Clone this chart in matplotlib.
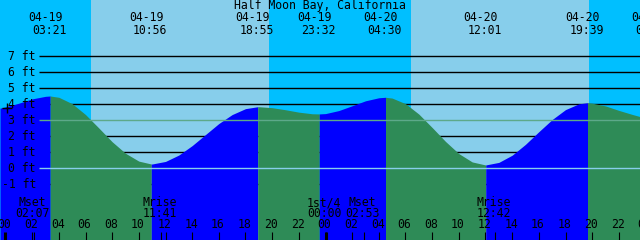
"""
Tide chart for Half Moon Bay, California (04-19 .. 04-20), xtide style.
"""

import matplotlib

matplotlib.use("Agg")
import matplotlib.pyplot as plt
import numpy as np


TITLE = "Half Moon Bay, California"

# tide extremes, alternating high / low
EXTREME_STAMPS = [
    "04-19 03:21", "04-19 10:56", "04-19 18:55", "04-19 23:32",
    "04-20 04:30", "04-20 12:01", "04-20 19:39", "04-21 00:34",
]
EXTREME_FT = [4.50, 0.25, 3.83, 3.38, 4.42, 0.19, 4.08, 3.00]

# water level on every hour, starting 04-18 23:00
HOURLY_START = -1
HOURLY_FT = [
    3.62, 3.82, 4.05, 4.32, 4.48, 4.42, 4.02, 3.34, 2.50, 1.64,
    0.92, 0.43, 0.25, 0.41, 0.81, 1.40, 2.09, 2.78, 3.34, 3.71,
    3.83, 3.77, 3.64, 3.49, 3.39, 3.40, 3.59, 3.89, 4.20, 4.39,
    4.37, 4.02, 3.37, 2.53, 1.66, 0.90, 0.38, 0.19, 0.35, 0.80,
    1.48, 2.27, 3.03, 3.65, 4.01, 4.05, 3.88, 3.60, 3.35, 3.12,
]

# sunrise, sunset, sunrise, sunset
SUN_STAMPS = ["04-19 06:25", "04-19 19:47", "04-20 06:24", "04-20 19:48"]

MOON_NAMES = ["Mset", "Mrise", "1st/4", "Mset", "Mrise"]
MOON_STAMPS = [
    "04-19 02:07", "04-19 11:41", "04-20 00:00", "04-20 02:53", "04-20 12:42",
]

FT_LEVELS = [-1, 0, 1, 2, 3, 4, 5, 6, 7]
MSL_FT = 3
DATUM_FT = 0

NIGHT = "#00BFFF"
DAY = "#87CEEB"
FLOOD = "#0000FF"
EBB = "#2E8B57"
MSL_COLOR = "#5DA98A"
DATUM_COLOR = "#87CEEB"

WIDTH, HEIGHT = 640, 240
PX_PER_HOUR = WIDTH / 48.0
X_OFFSET_PX = 5.5
T0 = -X_OFFSET_PX / PX_PER_HOUR
ZERO_PX, PX_PER_FT = 168.0, 16.0

FONT = dict(family="DejaVu Sans Mono", fontsize=8.3, color="black")


def hours(stamp):
    """'04-19 03:21' -> hours since 04-19 00:00."""
    day, clock = stamp.split()
    hh, mm = clock.split(":")
    return (int(day[3:]) - 19) * 24 + int(hh) + int(mm) / 60.0


def hx(px):
    return T0 + px / PX_PER_HOUR


def fy(py):
    return (ZERO_PX - py) / PX_PER_FT


ext_t = np.array([hours(s) for s in EXTREME_STAMPS])
ext_ft = np.array(EXTREME_FT)
hour_t = HOURLY_START + np.arange(len(HOURLY_FT))

curve_t = np.concatenate([hour_t, ext_t])
curve_ft = np.concatenate([HOURLY_FT, ext_ft])
order = np.argsort(curve_t)
curve_t, curve_ft = curve_t[order], curve_ft[order]

is_high = [
    ext_ft[i] > (ext_ft[i + 1] if i + 1 < len(ext_ft) else ext_ft[i - 1])
    for i in range(len(ext_ft))
]

fig = plt.figure(figsize=(WIDTH / 100, HEIGHT / 100), dpi=100)
ax = fig.add_axes([0, 0, 1, 1])
x0, x1 = T0, T0 + 48
ax.set_xlim(x0, x1)
ax.set_ylim(fy(HEIGHT), fy(0))
ax.axis("off")

# sky: night / day bands
sun_t = [hours(s) for s in SUN_STAMPS]
edges = [x0] + sun_t + [x1]
for i in range(len(edges) - 1):
    ax.axvspan(edges[i], edges[i + 1], color=NIGHT if i % 2 == 0 else DAY,
               lw=0, zorder=0)

# black depth lines, hidden by the water
for level in FT_LEVELS:
    if level in (MSL_FT, DATUM_FT):
        continue
    ax.hlines(level, hx(39), x1, color="black", lw=1.0, zorder=1)

# water, blue while rising, green while falling
seg_edges = [x0] + [t for t in ext_t if x0 < t < x1] + [x1]
for a, b in zip(seg_edges[:-1], seg_edges[1:]):
    idx = np.searchsorted(ext_t, 0.5 * (a + b))
    rising = idx < len(ext_t) and is_high[idx]
    tt = np.linspace(a, b, 300)
    ax.fill_between(tt, fy(HEIGHT), np.interp(tt, curve_t, curve_ft),
                    color=FLOOD if rising else EBB, lw=0, zorder=2)

ax.hlines(MSL_FT, hx(39), x1, color=MSL_COLOR, lw=1.0, zorder=3)
ax.hlines(DATUM_FT, hx(39), x1, color=DATUM_COLOR, lw=1.0, zorder=3)

# depth labels
for level in FT_LEVELS:
    ax.text(hx(36), level, f"{level} ft", ha="right", va="center",
            zorder=5, **FONT)
ax.plot(hx(7), fy(108), marker="+", color="black", ms=7, mew=1.0, zorder=5)

# title and tide event labels
ax.text(hx(WIDTH / 2), fy(6), TITLE, ha="center", va="center", zorder=5,
        **FONT)
for stamp, t in zip(EXTREME_STAMPS, ext_t):
    date, clock = stamp.split()
    x = (t - T0) * PX_PER_HOUR
    ax.text(hx(x - 5), fy(17.5), date, ha="center", va="center", zorder=5,
            **FONT)
    ax.text(hx(x - 1), fy(30), clock, ha="center", va="center", zorder=5,
            **FONT)

# moon events
for name, stamp in zip(MOON_NAMES, MOON_STAMPS):
    t = hours(stamp)
    x = (t - T0) * PX_PER_HOUR
    ax.text(hx(x - 1.5), fy(202.5), name, ha="center", va="center",
            zorder=5, **FONT)
    ax.text(hx(x - 1.5), fy(213.5), stamp.split()[1], ha="center",
            va="center", zorder=5, **FONT)
    ax.vlines(t, fy(240), fy(232), color="black", lw=0.8, zorder=5)

# hour axis
for h in range(0, 50, 2):
    x = (h - T0) * PX_PER_HOUR
    ax.text(hx(x - 1), fy(225), f"{h % 24:02d}", ha="center", va="center",
            zorder=5, **FONT)
    ax.vlines(h, fy(240), fy(232), color="black",
              lw=2.2 if h % 24 == 0 else 0.8, zorder=5)

fig.savefig("out.png", dpi=100)
plt.close(fig)
